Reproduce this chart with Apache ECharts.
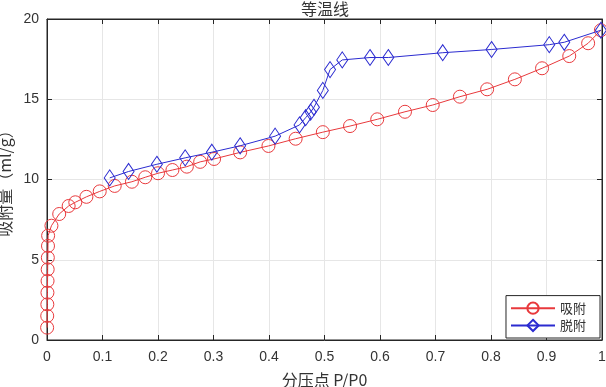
<!DOCTYPE html>
<html><head><meta charset="utf-8">
<script src="https://cdn.jsdelivr.net/npm/echarts@6/dist/echarts.min.js"></script>
<style>html,body{margin:0;padding:0;background:#fff}#c{width:606px;height:387px}</style>
</head><body><div id="c"></div>
<script>
var adsX = [0.0002,0.0004,0.0006,0.0008,0.001,0.0012,0.0015,0.0018,0.002,0.008,0.022,0.039,0.051,0.071,0.095,0.122,0.153,0.177,0.2,0.226,0.252,0.276,0.301,0.348,0.399,0.448,0.497,0.546,0.595,0.645,0.695,0.744,0.793,0.843,0.892,0.941,0.975,0.998];
var adsY = [0.77,1.5,2.22,2.95,3.68,4.4,5.13,5.86,6.5,7.12,7.85,8.35,8.58,8.92,9.26,9.6,9.86,10.14,10.39,10.59,10.8,11.1,11.28,11.69,12.09,12.54,12.95,13.33,13.75,14.22,14.64,15.16,15.62,16.24,16.93,17.69,18.49,19.3];
var desX = [0.113,0.147,0.198,0.249,0.297,0.348,0.411,0.455,0.466,0.475,0.481,0.497,0.51,0.532,0.582,0.615,0.713,0.801,0.905,0.932,0.998];
var desY = [10.1,10.5,10.95,11.35,11.7,12.1,12.7,13.4,13.85,14.2,14.5,15.55,16.85,17.45,17.6,17.6,17.9,18.1,18.4,18.55,19.3];
var seriesNames = ['吸附','脱附'];
var titleText = '等温线';
var xName = '分压点 P/P0';
var yName = '吸附量（ml/g）';

function pairs(xs, ys){ return xs.map(function(x,i){return [x, ys[i]];}); }
var axisColor = '#262626';
var labelColor = '#333333';
var font = 'Liberation Sans, Arial, sans-serif';
var cjk = 'Noto Sans CJK SC, sans-serif';
var chart = echarts.init(document.getElementById('c'), null, {renderer:'canvas'});
chart.setOption({
  animation:false,
  title:{text:titleText, left:325, top:0, textAlign:'center', padding:[1,0,0,0],
    textStyle:{fontFamily:cjk, fontSize:16, fontWeight:'normal', color:labelColor}},
  grid:{left:47, right:4, top:19, bottom:47, outerBoundsMode:'none', containLabel:false,
    show:true, borderColor:axisColor, borderWidth:1},
  legend:{orient:'vertical', right:6, bottom:49, data:seriesNames,
    backgroundColor:'#fff', borderColor:axisColor, borderWidth:1, padding:[6,14,6,4],
    itemGap:4, itemWidth:44, itemHeight:14,
    textStyle:{fontFamily:cjk, fontSize:13, color:labelColor}},
  xAxis:[{type:'value', min:0, max:1, interval:0.1,
    name:xName, nameLocation:'middle', nameGap:32,
    nameTextStyle:{fontFamily:cjk, fontSize:16, color:labelColor},
    axisLine:{show:true, onZero:false, lineStyle:{color:axisColor}},
    axisTick:{show:true, inside:true, length:5, lineStyle:{color:axisColor}},
    axisLabel:{fontFamily:font, fontSize:14, color:labelColor, margin:10,
      formatter:function(v){return +v.toFixed(1)+'';}},
    splitLine:{show:true, lineStyle:{color:'#e6e6e6'}}},
   {type:'value', position:'top', min:0, max:1, interval:0.1,
    axisLine:{show:true, onZero:false, lineStyle:{color:axisColor}},
    axisTick:{show:true, inside:true, length:5, lineStyle:{color:axisColor}},
    axisLabel:{show:false}, splitLine:{show:false}}],
  yAxis:[{type:'value', min:0, max:20, interval:5,
    name:yName, nameLocation:'middle', nameGap:33,
    nameTextStyle:{fontFamily:cjk, fontSize:16, color:labelColor},
    axisLine:{show:true, onZero:false, lineStyle:{color:axisColor}},
    axisTick:{show:true, inside:true, length:5, lineStyle:{color:axisColor}},
    axisLabel:{fontFamily:font, fontSize:14, color:labelColor, margin:8},
    splitLine:{show:true, lineStyle:{color:'#e6e6e6'}}},
   {type:'value', position:'right', min:0, max:20, interval:5,
    axisLine:{show:true, onZero:false, lineStyle:{color:axisColor}},
    axisTick:{show:true, inside:true, length:5, lineStyle:{color:axisColor}},
    axisLabel:{show:false}, splitLine:{show:false}}],
  series:[
    {name:seriesNames[0], type:'line', data:pairs(adsX, adsY),
     symbol:'circle', symbolSize:13, z:3,
     lineStyle:{color:'#e8393c', width:1},
     itemStyle:{color:'rgba(255,255,255,0)', borderColor:'#e8393c', borderWidth:1}},
    {name:seriesNames[1], type:'line', data:pairs(desX, desY),
     symbol:'diamond', symbolSize:[11,16], z:4,
     lineStyle:{color:'#2b2bd0', width:1},
     itemStyle:{color:'rgba(255,255,255,0)', borderColor:'#2b2bd0', borderWidth:1}}
  ]
});
</script></body></html>
